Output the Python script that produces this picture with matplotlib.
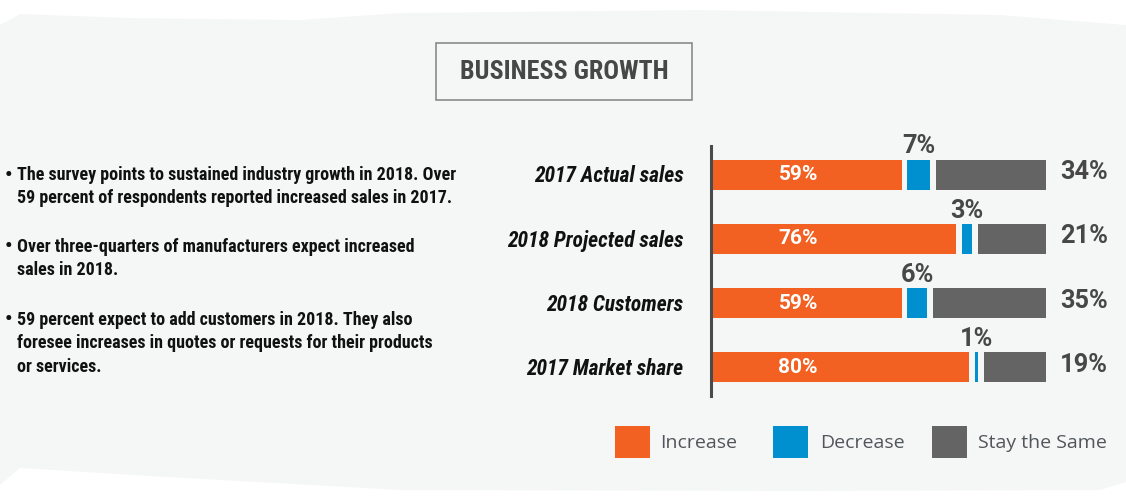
import matplotlib
matplotlib.use("Agg")
import matplotlib.pyplot as plt
from matplotlib.patches import Rectangle, Polygon
from matplotlib import font_manager

# ---- data ----
categories = ["2017 Actual sales", "2018 Projected sales", "2018 Customers", "2017 Market share"]
increase = [59, 76, 59, 80]
decrease = [7, 3, 6, 1]
same = [34, 21, 35, 19]
series_names = ["Increase", "Decrease", "Stay the Same"]
title = "BUSINESS GROWTH"
bullets = [
    ["The survey points to sustained industry growth in 2018. Over",
     "59 percent of respondents reported increased sales in 2017."],
    ["Over three-quarters of manufacturers expect increased",
     "sales in 2018."],
    ["59 percent expect to add customers in 2018. They also",
     "foresee increases in quotes or requests for their products",
     "or services."],
]

# ---- style ----
C_INC = "#F26122"
C_DEC = "#0090D0"
C_SAME = "#636463"
BG = "#F5F7F6"
DARK = "#474747"

available = {f.name for f in font_manager.fontManager.ttflist}
narrow_pref = ["Roboto Condensed", "DejaVu Sans Condensed", "Liberation Sans Narrow",
               "Open Sans Condensed", "Noto Sans Condensed", "Roboto", "Liberation Sans"]
NARROW_NAME = next((f for f in narrow_pref if f in available), "DejaVu Sans")
NARROW = [NARROW_NAME, "DejaVu Sans"]
LEG_FONT = ["Open Sans", "DejaVu Sans"]
NUM_FONT = ["Roboto", "DejaVu Sans"]

W, H = 1126, 499
fig = plt.figure(figsize=(W / 100, H / 100), dpi=100)
fig.patch.set_facecolor("white")
renderer = fig.canvas.get_renderer()


def fx(px):
    return px / W


def fy(py):
    return 1 - py / H


def fit_size(text, width_px, max_size, **kw):
    t = fig.text(0, 0, text, fontsize=max_size, **kw)
    w = t.get_window_extent(renderer).width
    t.remove()
    return min(max_size, max_size * width_px / w)


# background panel with wavy edges (figure pixel coords, y down)
top_edge = [(0, 25), (20, 14), (130, 18), (300, 20), (400, 13), (700, 10), (1000, 15), (1126, 25)]
bot_edge = [(1126, 482), (1100, 490), (800, 491), (400, 490), (150, 476), (20, 468), (0, 485)]
pts = [(x / W, 1 - y / H) for x, y in top_edge + bot_edge]
fig.patches.append(Polygon(pts, closed=True, transform=fig.transFigure,
                           facecolor=BG, edgecolor="none", zorder=-5))

# title box
fig.patches.append(Rectangle((fx(436), fy(100)), (692 - 436) / W, (100 - 43) / H,
                             transform=fig.transFigure, facecolor=BG,
                             edgecolor="#8a8a8a", linewidth=1.2, zorder=1))
ts = fit_size(title, 208, 26, fontweight="bold", family=NARROW)
fig.text(fx(564), fy(72), title, ha="center", va="center", fontsize=ts,
         fontweight="bold", color=DARK, family=NARROW, zorder=2)

# bullet text
bs = fit_size(bullets[0][1], 436, 13, fontweight="bold", family=NARROW)
line_y = [[175, 198], [247, 270], [320, 343, 367]]
for para, ys in zip(bullets, line_y):
    for i, (txt, y) in enumerate(zip(para, ys)):
        if i == 0:
            fig.text(fx(5), fy(y), "\u2022", ha="left", va="center", fontsize=15,
                     fontweight="bold", color="#111111", family=NARROW)
        fig.text(fx(17), fy(y), txt, ha="left", va="center", fontsize=bs,
                 fontweight="bold", color="#111111", family=NARROW)

# bar axes: x from 711 px, 3.23 px per unit; rows centred at 174.5 + 64.3*i
PXU = 3.23
ax_left, ax_right = 711, 1126
ax_top, ax_bot = 146, 396
row0, rowstep = 174.5, 64.3
ax = fig.add_axes([fx(ax_left), fy(ax_bot), (ax_right - ax_left) / W, (ax_bot - ax_top) / H])
ax.set_xlim(0, (ax_right - ax_left) / PXU)
ax.set_ylim((ax_bot - row0) / rowstep, (ax_top - row0) / rowstep)
ax.patch.set_alpha(0)
for s in ["top", "right", "bottom"]:
    ax.spines[s].set_visible(False)
ax.spines["left"].set_color("#4a4a4a")
ax.spines["left"].set_linewidth(2.2)
ax.set_xticks([])
ax.set_yticks([])

gap = 1.8
bh = 30 / rowstep
ypos = list(range(len(categories)))
left_dec = [a + gap for a in increase]
left_same = [a + b + 2 * gap for a, b in zip(increase, decrease)]
ax.barh(ypos, increase, height=bh, color=C_INC, label=series_names[0])
ax.barh(ypos, decrease, left=left_dec, height=bh, color=C_DEC, label=series_names[1])
ax.barh(ypos, same, left=left_same, height=bh, color=C_SAME, label=series_names[2])

cs = fit_size(categories[1], 177, 16, fontweight="bold", fontstyle="italic", family=NARROW)
ins = fit_size("59%", 40, 15, fontweight="bold", family=NUM_FONT)
outs = fit_size("34%", 48, 19, fontweight="bold", family=NUM_FONT)
for i, cat in enumerate(categories):
    ax.text(-8.5, i + 0.03, cat, ha="right", va="center", fontsize=cs, fontweight="bold",
            fontstyle="italic", color="#111111", family=NARROW, clip_on=False)
    ax.text(27, i, f"{increase[i]}%", ha="center", va="center", fontsize=ins,
            fontweight="bold", color="white", family=NUM_FONT)
    ax.text(left_dec[i] + decrease[i] / 2, i - bh / 2 - 0.02, f"{decrease[i]}%",
            ha="center", va="bottom", fontsize=outs, fontweight="bold", color=DARK,
            family=NUM_FONT)
    ax.text(108, i - 0.04, f"{same[i]}%", ha="left", va="center", fontsize=outs,
            fontweight="bold", color=DARK, family=NUM_FONT)

# legend
leg_items = [(615, C_INC, series_names[0], 660), (773, C_DEC, series_names[1], 820),
             (932, C_SAME, series_names[2], 978)]
for x0, col, lab, tx in leg_items:
    fig.patches.append(Rectangle((fx(x0), fy(458)), 35 / W, 32 / H,
                                 transform=fig.transFigure, facecolor=col,
                                 edgecolor="none", zorder=2))
    fig.text(fx(tx), fy(443), lab, ha="left", va="center", fontsize=14,
             color="#50565a", family=LEG_FONT)

fig.savefig("out.png", dpi=100, facecolor=fig.get_facecolor())
